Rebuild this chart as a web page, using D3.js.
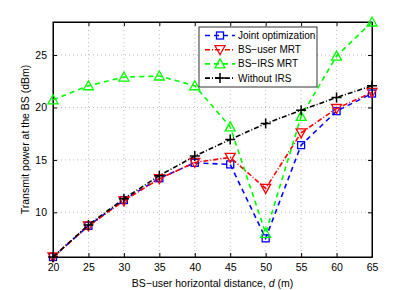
<!DOCTYPE html>
<html>
<head>
<meta charset="utf-8">
<script src="https://cdn.jsdelivr.net/npm/d3@7"></script>
<style>
body { margin: 0; background: #fff; }
text { font-family: "Liberation Sans", Arial, sans-serif; }
</style>
</head>
<body>
<div id="chart"></div>
<script>
// horizontal distance d (m)
var dist = [20, 25, 30, 35, 40, 45, 50, 55, 60, 65];
var jointOpt = [5.74, 8.72, 11.17, 13.25, 14.72, 14.57, 7.52, 16.41, 19.65, 21.33];
var userMrt = [5.74, 8.70, 11.10, 13.20, 14.75, 15.24, 12.28, 17.58, 19.90, 21.43];
var irsMrt = [20.73, 22.07, 22.90, 23.00, 22.07, 18.15, 8.00, 19.15, 24.90, 28.15];
var noIrs = [5.74, 8.80, 11.30, 13.50, 15.36, 16.95, 18.47, 19.74, 20.95, 22.07];
var xTicks = [20, 25, 30, 35, 40, 45, 50, 55, 60, 65];
var yTicks = [10, 15, 20, 25];

var margin = {top: 22, right: 39, bottom: 33, left: 53},
	width = 411 - margin.left - margin.right,
	height = 290 - margin.top - margin.bottom;

var svg = d3.select("#chart").append("svg")
	.attr("width", 411)
	.attr("height", 290)
  .append("g")
	.attr("transform", "translate(" + margin.left + "," + margin.top + ")");

var x = d3.scaleLinear().domain([20, 65]).range([0, width]);
var y = d3.scaleLinear().domain([5.74, 28.15]).range([height, 0]);

// grid
svg.selectAll(".gx").data(xTicks).enter().append("line")
	.attr("x1", function(d){ return x(d); }).attr("x2", function(d){ return x(d); })
	.attr("y1", 0).attr("y2", height)
	.style("stroke", "#aaa").style("stroke-dasharray", "1,3").style("stroke-width", 0.8);
svg.selectAll(".gy").data(yTicks).enter().append("line")
	.attr("y1", function(d){ return y(d); }).attr("y2", function(d){ return y(d); })
	.attr("x1", 0).attr("x2", width)
	.style("stroke", "#aaa").style("stroke-dasharray", "1,3").style("stroke-width", 0.8);

// axes (ticks inward, box)
var xAxis = svg.append("g")
	.attr("transform", "translate(0," + height + ")")
	.call(d3.axisBottom(x).tickValues(xTicks).tickSizeInner(-4).tickSizeOuter(0).tickPadding(7));
var yAxis = svg.append("g")
	.call(d3.axisLeft(y).tickValues(yTicks).tickSizeInner(-4).tickSizeOuter(0).tickPadding(6));
svg.append("g")
	.call(d3.axisTop(x).tickValues(xTicks).tickSizeInner(-4).tickSizeOuter(0).tickFormat(""));
svg.append("g")
	.attr("transform", "translate(" + width + ",0)")
	.call(d3.axisRight(y).tickValues(yTicks).tickSizeInner(-4).tickSizeOuter(0).tickFormat(""));
svg.selectAll(".domain").style("stroke", "#000");
svg.selectAll(".tick text").style("font-size", "10.5px").style("fill", "#000");
svg.append("rect").attr("width", width).attr("height", height)
	.style("fill", "none").style("stroke", "#000").style("stroke-width", 1);

var series = [
	{name: "Joint optimization", vals: jointOpt, color: "#0000ff", dash: "5,4", marker: "square"},
	{name: "BS\u2212user MRT", vals: userMrt, color: "#ff0000", dash: "5,2,1,2", marker: "down"},
	{name: "BS\u2212IRS MRT", vals: irsMrt, color: "#00ff00", dash: "5,4", marker: "up"},
	{name: "Without IRS", vals: noIrs, color: "#000000", dash: "5,2,1,2", marker: "plus"}
];

function drawMarker(g, type, color) {
	if (type == "square") {
		g.append("rect").attr("x", -3.5).attr("y", -3.5).attr("width", 7).attr("height", 7)
			.style("fill", "none").style("stroke", color).style("stroke-width", 1.3);
	} else if (type == "down") {
		g.append("path").attr("d", "M-5,-4L5,-4L0,5Z")
			.style("fill", "none").style("stroke", color).style("stroke-width", 1.3);
	} else if (type == "up") {
		g.append("path").attr("d", "M-5,4L5,4L0,-5Z")
			.style("fill", "none").style("stroke", color).style("stroke-width", 1.3);
	} else {
		g.append("path").attr("d", "M-5,0L5,0M0,-5L0,5")
			.style("fill", "none").style("stroke", color).style("stroke-width", 1.5);
	}
}

var line = d3.line()
	.x(function(d){ return x(d[0]); })
	.y(function(d){ return y(d[1]); });

series.forEach(function(s){
	var pts = dist.map(function(d, i){ return [d, s.vals[i]]; });
	svg.append("path")
		.datum(pts)
		.attr("d", line)
		.style("fill", "none")
		.style("stroke", s.color)
		.style("stroke-width", 1.6)
		.style("stroke-dasharray", s.dash);
	pts.forEach(function(p){
		var g = svg.append("g").attr("transform", "translate(" + x(p[0]) + "," + y(p[1]) + ")");
		drawMarker(g, s.marker, s.color);
	});
});

// legend
var leg = svg.append("g").attr("transform", "translate(146,5)");
leg.append("rect").attr("width", 118).attr("height", 60)
	.style("fill", "#fff").style("stroke", "#000").style("stroke-width", 0.8);
series.forEach(function(s, i){
	var ly = 8.5 + i * 14.2;
	leg.append("line").attr("x1", 6).attr("x2", 36).attr("y1", ly).attr("y2", ly)
		.style("stroke", s.color).style("stroke-width", 1.6).style("stroke-dasharray", s.dash);
	var g = leg.append("g").attr("transform", "translate(21," + ly + ")");
	drawMarker(g, s.marker, s.color);
	leg.append("text").attr("x", 39).attr("y", ly + 3.5)
		.style("font-size", "10px").text(s.name);
});

// axis labels
svg.append("text")
	.attr("x", width / 2)
	.attr("y", height + 30)
	.attr("text-anchor", "middle")
	.style("font-size", "10.5px")
	.html("BS\u2212user horizontal distance, <tspan font-style='italic'>d</tspan> (m)");

svg.append("text")
	.attr("transform", "rotate(-90)")
	.attr("x", -height / 2)
	.attr("y", -24)
	.attr("text-anchor", "middle")
	.style("font-size", "10.5px")
	.text("Transmit power at the BS (dBm)");
</script>
</body>
</html>
